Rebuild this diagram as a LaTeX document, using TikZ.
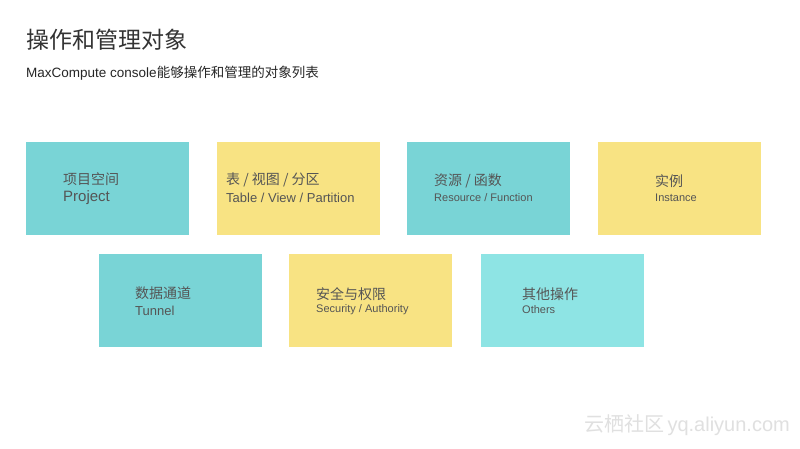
\documentclass[tikz,border=0pt]{standalone}
\usepackage{fontspec}
\setmainfont{Liberation Sans}
\newfontfamily\cjk{Noto Sans CJK SC}
\definecolor{teal}{HTML}{79D4D6}
\definecolor{yel}{HTML}{F8E383}
\definecolor{cyanl}{HTML}{8EE4E4}
\definecolor{txt}{HTML}{555555}
\tikzset{box/.style={draw=none,minimum width=163pt,minimum height=93pt,anchor=north west,inner sep=0},
 lbl/.style={anchor=west,text=txt,inner sep=0}}
\begin{document}
\begin{tikzpicture}[x=1pt,y=-1pt]
\useasboundingbox (0,0) rectangle (800,449);
\fill[white] (0,0) rectangle (800,449);
\node[anchor=west,inner sep=0,text=black!80] (t) at (26,40) {\cjk\fontsize{23}{26}\selectfont 操作和管理对象};
\node[anchor=west,inner sep=0,text=black!85] (st) at (26,73) {\fontsize{13.5}{16}\selectfont MaxCompute console{\cjk 能够操作和管理的对象列表}};
\node[box,fill=teal] (b1) at (26,142) {};
\node[box,fill=yel] (b2) at (217,142) {};
\node[box,fill=teal] (b3) at (407,142) {};
\node[box,fill=yel] (b4) at (598,142) {};
\node[box,fill=teal] (b5) at (99,254) {};
\node[box,fill=yel] (b6) at (289,254) {};
\node[box,fill=cyanl] (b7) at (481,254) {};
\node[lbl] (l1) at (63,179) {\cjk\fontsize{14}{18}\selectfont 项目空间};
\node[lbl] (e1) at (63,198) {\fontsize{15}{18}\selectfont Project};
\node[lbl] (l2) at (226,180) {\cjk\fontsize{14}{18}\selectfont 表 / 视图 / 分区};
\node[lbl] (e2) at (226,198) {\fontsize{13}{16}\selectfont Table / View / Partition};
\node[lbl] (l3) at (434,181) {\cjk\fontsize{14}{18}\selectfont 资源 / 函数};
\node[lbl] (e3) at (434,198) {\fontsize{11}{14}\selectfont Resource / Function};
\node[lbl] (l4) at (655,181) {\cjk\fontsize{14}{18}\selectfont 实例};
\node[lbl] (e4) at (655,198) {\fontsize{11}{14}\selectfont Instance};
\node[lbl] (l5) at (135,293) {\cjk\fontsize{14}{18}\selectfont 数据通道};
\node[lbl] (e5) at (135,311) {\fontsize{13}{16}\selectfont Tunnel};
\node[lbl] (l6) at (316,294) {\cjk\fontsize{14}{18}\selectfont 安全与权限};
\node[lbl] (e6) at (316,310) {\fontsize{11}{14}\selectfont Security / Authority};
\node[lbl] (l7) at (522,294) {\cjk\fontsize{14}{18}\selectfont 其他操作};
\node[lbl] (e7) at (522,310) {\fontsize{11}{14}\selectfont Others};
\node[anchor=east,inner sep=0,text=black!12] (wm) at (790,425) {{\cjk\fontsize{20}{24}\selectfont 云栖社区} \fontsize{20}{24}\selectfont yq.aliyun.com};
\end{tikzpicture}
\end{document}
